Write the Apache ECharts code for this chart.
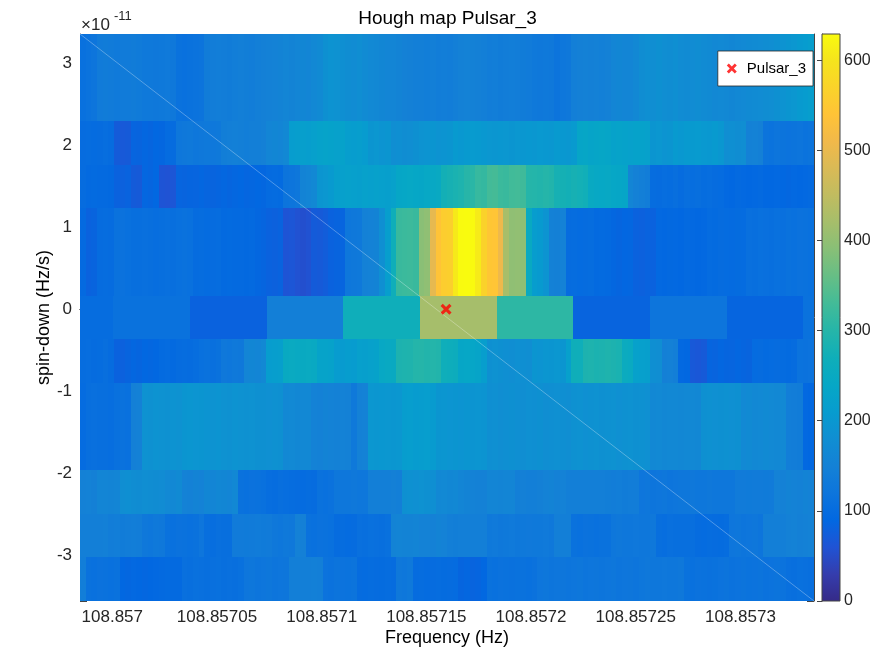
<!DOCTYPE html>
<html><head><meta charset="utf-8">
<script src="https://cdn.jsdelivr.net/npm/echarts@6/dist/echarts.min.js"></script>
<style>html,body{margin:0;padding:0;background:#fff}#c{width:895px;height:652px}</style>
</head><body><div id="c"></div>
<script>
// ---------- data ----------
const FREQ_MIN = 108.85698457, FREQ_MAX = 108.85733513;   // Hz
const SD_MIN = -3.557, SD_MAX = 3.357;                     // spin-down, units of 1e-11 Hz/s
const FINE_F0 = FREQ_MIN, FINE_DF = 2.6966e-6;             // fine frequency bins
const COARSE_F0 = 108.85696384, COARSE_DF = 3.6618e-5;     // coarse bins (spin-down 0 row)
const CBAR_MAX = 629;
const pulsar = [108.8571594, 0];

// spin-down band edges (top to bottom), ×1e-11
const bandEdges = [3.357, 2.294, 1.762, 1.230, 0.167, -0.365, -0.897, -1.960, -2.492, -3.024, -3.557];

const bandA = [110,115,120,135,138,135,132,136,135,138,134,130,130,128,130,132,128,112,110,112,115,118,
138,140,142,140,138,142,145,143,140,145,148,150,152,155,158,155,160,162,158,165,170,185,190,188,182,
178,175,180,172,168,165,162,160,158,155,150,148,145,145,142,145,140,142,140,
145,150,152,150,148,145,140,142,138,140,142,140,138,135,130,128,130,128,118,126,128,
145,148,150,148,150,147,150,160,162,160,158,165,178,182,180,185,180,178,182,175,172,175,178,172,170,
165,168,165,162,165,168,170,172,175,178,180,185,190,195,198,205,210,215];

const bandB = [100,102,98,100,104,100,72,68,70,85,84,88,86,90,88,98,100,125,128,130,126,128,130,127,130,
143,145,147,145,142,146,145,148,160,162,158,165,212,215,218,215,220,225,228,225,222,225,215,212,215,210,
195,198,192,195,180,182,178,180,185,190,192,195,190,192,195,205,202,205,208,205,202,
198,196,200,198,195,198,200,202,200,204,202,200,205,202,200,205,235,238,232,235,238,235,
225,228,225,222,226,225,222,195,198,192,195,205,202,206,205,208,204,202,205,200,180,182,178,180,
150,152,148,118,115,120,118,116,118,120,115,118];

const bandC = [100,95,96,94,95,93,82,80,83,72,70,88,86,90,62,60,64,85,84,86,85,88,85,84,86,88,86,
88,90,87,88,90,88,97,98,96,118,120,125,155,160,165,195,198,205,218,220,222,220,218,222,220,224,220,218,222,
238,240,242,240,238,242,245,248,275,280,285,290,302,305,318,315,330,332,322,320,328,330,326,
300,298,295,300,296,280,278,275,280,276,272,248,245,242,245,240,238,235,160,150,145,140,
102,100,104,102,105,100,105,104,106,102,104,100,98,92,90,94,92,90,92,94,90,90,92,90,88,92,90,92,95];

const bandD = [95,82,84,100,102,100,112,114,110,106,105,108,106,104,106,108,105,110,112,110,100,102,98,100,101,
95,96,94,95,93,95,88,86,82,80,83,62,64,58,55,58,72,70,74,82,84,85,125,128,130,150,152,155,182,215,270,320,
322,324,320,392,398,495,540,558,562,605,628,629,628,608,568,545,542,505,422,398,400,396,250,212,205,192,
150,148,152,100,102,98,100,101,95,96,94,88,86,89,88,82,80,83,82,92,90,93,92,90,94,92,90,92,
98,96,100,98,97,99,98,108,106,110,108,106,110,108,112,110,114,112,110];

const bandE = [102,112,82,145,268,420,308,84,120,86,112];   // coarse bins

const bandF = [102,104,100,102,105,100,82,80,84,88,86,90,88,90,96,98,95,100,102,100,104,110,112,108,112,
128,126,130,128,158,162,160,165,212,215,218,250,252,248,250,252,248,228,230,226,210,208,212,210,
220,218,222,225,245,248,250,288,290,292,298,300,296,298,295,268,265,262,238,240,236,232,215,
185,188,185,182,180,184,182,180,195,192,196,195,198,195,220,270,268,288,290,286,288,292,288,285,
255,252,222,220,218,182,180,148,150,146,92,90,68,66,70,86,84,88,86,85,88,86,84,
98,100,96,98,100,98,96,100,115,114,116];

const bandG = [98,106,108,105,106,104,110,112,110,148,150,188,186,190,188,186,190,188,195,196,194,195,
192,190,192,188,186,190,188,186,188,185,185,184,186,185,165,168,164,166,165,152,150,154,152,150,153,150,
130,150,152,198,196,200,198,196,198,212,214,210,212,214,208,195,196,194,195,193,195,192,194,192,
182,184,180,182,185,182,180,183,182,185,180,182,184,182,180,
186,188,184,186,188,185,186,188,184,186,188,185,186,184,165,168,164,166,165,163,167,165,164,
185,186,184,185,186,184,185,168,170,166,168,170,168,166,168,142,140,138,92,90];

const bandH = [150,152,148,158,160,156,158,180,182,178,176,180,178,176,175,168,166,170,152,150,154,152,
162,160,164,162,160,165,112,110,114,112,110,104,102,106,104,102,100,98,102,100,112,110,114,
125,124,126,128,125,124,145,146,144,145,148,144,185,186,184,188,185,182,165,168,164,166,160,155,152,150,150,
158,160,156,158,160,146,148,144,146,148,152,154,150,152,145,146,144,145,146,144,145,143,140,142,138,140,141,
122,124,120,122,124,120,122,124,126,128,124,126,128,125,126,124,126,135,136,134,135,136,134,135,
152,150,154,152,150,154,152];

const bandI = [145,146,144,145,147,140,142,138,140,142,140,128,126,130,128,112,110,114,112,110,113,122,
106,104,108,106,105,135,136,134,135,137,134,135,128,126,130,128,150,148,112,110,114,112,110,100,102,98,100,
108,106,110,108,106,110,155,156,154,155,157,152,152,150,154,152,145,143,146,145,144,146,145,
130,132,128,130,132,128,130,131,129,130,132,128,145,146,144,112,110,114,112,110,113,112,
126,128,124,126,127,125,126,128,106,104,108,106,105,107,106,100,98,102,100,99,101,
122,124,120,122,124,120,145,146,144,145,150,152,148,150,151];

const bandJ = [142,112,110,114,112,110,112,90,88,92,90,88,90,92,95,96,94,95,108,106,110,108,106,108,110,107,108,106,110,
122,124,120,122,124,121,122,123,145,146,144,145,147,144,116,114,118,116,115,117,100,98,102,100,99,101,100,
128,126,130,100,102,98,100,101,99,100,98,86,88,84,86,90,112,110,114,112,111,113,112,110,114,
122,124,120,122,123,121,122,124,120,122,123,121,122,124,120,122,123,121,
126,128,124,126,127,125,126,128,112,110,114,112,111,113,116,118,114,116,117,115,116,118,114,116,117,115,
108,106,110,108,107];

const bands = [bandA, bandB, bandC, bandD, bandE, bandF, bandG, bandH, bandI, bandJ];
const coarseBand = [false, false, false, false, true, false, false, false, false, false];

// MATLAB parula colormap (every 3rd entry of 64)
const PARULA = ['#352A87','#353DAD','#2053D4','#0268E1','#0D75DC','#1481D6','#108ED2','#079CCF',
'#06A7C6','#0FAEB9','#25B5A9','#42BB98','#65BE86','#87BF77','#A5BE6B','#C0BC60','#D9BA56','#F1B94A',
'#FFC337','#FAD32A','#F5E41D','#F9FB0E'];

// ---------- build cells ----------
const cells = [];
bands.forEach((vals, b) => {
  const top = bandEdges[b], bot = bandEdges[b + 1];
  const f0 = coarseBand[b] ? COARSE_F0 : FINE_F0;
  const df = coarseBand[b] ? COARSE_DF : FINE_DF;
  vals.forEach((v, i) => cells.push([f0 + i * df, f0 + (i + 1) * df, v, top, bot]));
});

const FONT = "'Liberation Sans', Arial, Helvetica, sans-serif";
const AX = '#444';
const X_STEP = 5e-5;

function cellItem(params, api) {
  const a = api.coord([api.value(0), api.value(3)]);
  const b = api.coord([api.value(1), api.value(4)]);
  const cs = params.coordSys;
  let x1 = Math.max(Math.min(a[0], b[0]), cs.x), x2 = Math.min(Math.max(a[0], b[0]), cs.x + cs.width);
  let y1 = Math.max(Math.min(a[1], b[1]), cs.y), y2 = Math.min(Math.max(a[1], b[1]), cs.y + cs.height);
  x1 = Math.round(x1); x2 = Math.round(x2); y1 = Math.round(y1); y2 = Math.round(y2);
  if (x2 <= x1 || y2 <= y1) return null;
  return { type: 'rect', shape: { x: x1, y: y1, width: x2 - x1, height: y2 - y1 },
           style: { fill: api.visual('color') } };
}

function colorbarItem(params, api) {
  const a = api.coord([api.value(0), api.value(3)]);
  const b = api.coord([api.value(1), api.value(2)]);
  const stops = PARULA.map((c, i) => ({ offset: i / (PARULA.length - 1), color: c }));
  return { type: 'rect', shape: { x: a[0], y: a[1], width: b[0] - a[0], height: b[1] - a[1] },
           style: { fill: new echarts.graphic.LinearGradient(0, 1, 0, 0, stops), stroke: AX, lineWidth: 1 } };
}

const X_PATH = 'path://M0,2L2,0L5,3L8,0L10,2L7,5L10,8L8,10L5,7L2,10L0,8L3,5Z';

const xLabel = v => {
  const k = (v - 108.857) / X_STEP;
  if (Math.abs(k - Math.round(k)) > 1e-3) return '';
  return String(parseFloat(v.toFixed(5)));
};
const yLabel = v => Math.abs(v - Math.round(v)) < 1e-6 ? String(Math.round(v)) : '';

const chart = echarts.init(document.getElementById('c'), null, { renderer: 'canvas' });
chart.setOption({
  animation: false,
  backgroundColor: '#fff',
  textStyle: { fontFamily: FONT },
  title: [{ text: 'Hough map Pulsar_3', left: 'center', top: 4,
            textStyle: { fontSize: 19, fontWeight: 'normal', color: '#000', fontFamily: FONT } }],
  graphic: [
    { type: 'text', left: 81, top: 17, style: { text: '×10', fontSize: 17, fill: '#262626', fontFamily: FONT } },
    { type: 'text', left: 114, top: 10, style: { text: '-11', fontSize: 13, fill: '#262626', fontFamily: FONT } }
  ],
  grid: [
    { left: 80, top: 34, width: 734, height: 568 },
    { left: 822, top: 34, width: 18, height: 567 }
  ],
  visualMap: { type: 'continuous', show: false, min: 0, max: CBAR_MAX, dimension: 2, seriesIndex: 0,
               inRange: { color: PARULA } },
  legend: { right: 82, top: 51, data: [{ name: 'Pulsar_3', icon: X_PATH }], itemWidth: 20, itemHeight: 10,
            padding: [10, 7, 10, 9], backgroundColor: '#fff', borderColor: '#262626', borderWidth: 0.8,
            selectedMode: false, textStyle: { fontSize: 15, color: '#000', fontFamily: FONT } },
  xAxis: [
    { type: 'value', gridIndex: 0, position: 'bottom', min: FREQ_MIN, max: FREQ_MAX, splitNumber: 7,
      name: 'Frequency (Hz)', nameLocation: 'middle', nameGap: 28, nameMoveOverlap: false,
      nameTextStyle: { fontSize: 18, color: '#000', fontFamily: FONT },
      axisLine: { show: true, lineStyle: { color: AX, width: 1 } },
      axisTick: { show: true, inside: true, length: 7, lineStyle: { color: AX } },
      axisLabel: { fontSize: 17, color: '#262626', margin: 8, formatter: xLabel, fontFamily: FONT },
      splitLine: { show: false } },
    { type: 'value', gridIndex: 0, position: 'top', min: FREQ_MIN, max: FREQ_MAX, splitNumber: 7,
      axisLine: { show: true, lineStyle: { color: AX, width: 1 } },
      axisTick: { show: true, inside: true, length: 7, lineStyle: { color: AX } },
      axisLabel: { show: false }, splitLine: { show: false } },
    { type: 'value', gridIndex: 1, min: 0, max: 1, show: false }
  ],
  yAxis: [
    { type: 'value', gridIndex: 0, position: 'left', min: SD_MIN, max: SD_MAX,
      name: 'spin-down (Hz/s)', nameLocation: 'middle', nameGap: 27, nameMoveOverlap: false,
      nameTextStyle: { fontSize: 18, color: '#000', fontFamily: FONT },
      axisLine: { show: true, lineStyle: { color: AX, width: 1 } },
      axisTick: { show: true, inside: true, length: 7, lineStyle: { color: AX } },
      axisLabel: { fontSize: 17, color: '#262626', margin: 8, formatter: yLabel, fontFamily: FONT },
      splitLine: { show: false } },
    { type: 'value', gridIndex: 0, position: 'right', min: SD_MIN, max: SD_MAX,
      axisLine: { show: true, lineStyle: { color: AX, width: 1 } },
      axisTick: { show: true, inside: true, length: 7, lineStyle: { color: AX } },
      axisLabel: { show: false }, splitLine: { show: false } },
    { type: 'value', gridIndex: 1, position: 'right', min: 0, max: CBAR_MAX, interval: 100,
      axisLine: { show: true, lineStyle: { color: AX, width: 1 } },
      axisTick: { show: true, inside: true, length: 5, lineStyle: { color: AX } },
      axisLabel: { fontSize: 16, color: '#262626', margin: 4, showMaxLabel: false,
                   formatter: v => (v % 100 === 0 ? String(v) : ''), fontFamily: FONT },
      splitLine: { show: false } }
  ],
  series: [
    { type: 'custom', xAxisIndex: 0, yAxisIndex: 0, renderItem: cellItem, data: cells,
      encode: { x: [0, 1], y: [3, 4] }, silent: true, z: 1 },
    { type: 'line', xAxisIndex: 0, yAxisIndex: 0, data: [[FREQ_MIN, SD_MAX], [FREQ_MAX, SD_MIN]],
      symbol: 'none', silent: true, z: 2, lineStyle: { color: 'rgba(255,255,255,0.3)', width: 1 } },
    { type: 'scatter', name: 'Pulsar_3', xAxisIndex: 0, yAxisIndex: 0, data: [pulsar],
      symbol: X_PATH, symbolSize: 11, itemStyle: { color: '#FF0000' }, z: 3 },
    { type: 'custom', xAxisIndex: 2, yAxisIndex: 2, renderItem: colorbarItem,
      data: [[0, 1, 0, CBAR_MAX]], silent: true, z: 1 }
  ]
});
</script></body></html>
